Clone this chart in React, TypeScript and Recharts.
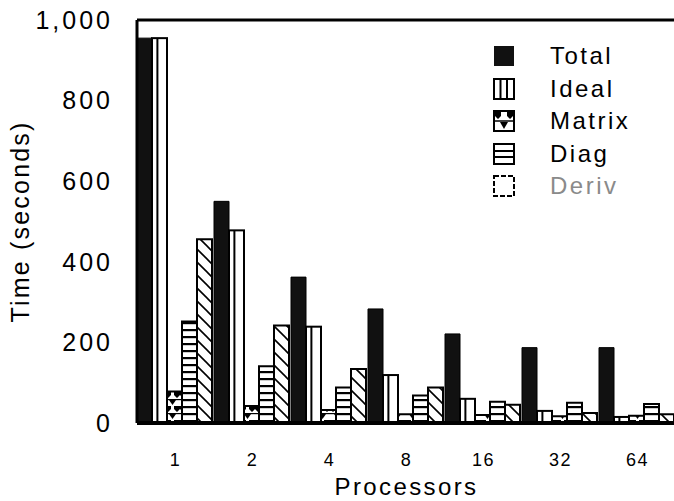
import React from "react";
import { Bar, BarChart, Legend, ReferenceLine, XAxis, YAxis } from "recharts";

const processors = ["1", "2", "4", "8", "16", "32", "64"];
const total = [955, 550, 362, 283, 221, 187, 187];
const ideal = [955, 478, 239, 119, 60, 30, 15];
const matrix = [78, 42, 32, 22, 20, 17, 18];
const diag = [252, 141, 88, 68, 53, 50, 47];
const deriv = [456, 242, 134, 88, 45, 25, 22];
const yTicks = [0, 200, 400, 600, 800, 1000];
const legendOrder = ["total", "ideal", "matrix", "diag", "deriv"];

const data = processors.map((p, i) => ({
  p,
  total: total[i],
  ideal: ideal[i],
  matrix: matrix[i],
  diag: diag[i],
  deriv: deriv[i],
}));

const font = "'Liberation Sans', Arial, Helvetica, sans-serif";

function IdealBar(props: any) {
  const { x, y, width, height } = props;
  if (!height) return null;
  const mid = x + width * 0.36;
  return (
    <g>
      <rect x={x} y={y} width={width} height={height} fill="#fff" stroke="#000" strokeWidth={2} />
      <line x1={mid} x2={mid} y1={y} y2={y + height} stroke="#000" strokeWidth={2} />
    </g>
  );
}

function LegendIcon({ k }: { k: string }) {
  const s = { stroke: "#000", strokeWidth: 2 };
  if (k === "total") return <rect x={1} y={1} width={20} height={20} fill="#111" />;
  if (k === "ideal")
    return (
      <g>
        <rect x={1} y={1} width={20} height={20} fill="#fff" {...s} />
        <line x1={7.5} x2={7.5} y1={1} y2={21} {...s} />
        <line x1={14} x2={14} y1={1} y2={21} {...s} />
      </g>
    );
  if (k === "matrix")
    return (
      <g>
        <rect x={1} y={1} width={20} height={20} fill="#fff" {...s} />
        <path d="M2,2 L8,2 L8,6 L5,9 L2,6 Z M14,2 L20,2 L20,6 L17,9 L14,6 Z" fill="#000" />
        <path d="M7,12 L15,12 L11,19 Z" fill="#000" />
        <line x1={2} x2={20} y1={11} y2={11} stroke="#000" strokeWidth={1.5} />
      </g>
    );
  if (k === "diag")
    return (
      <g>
        <rect x={1} y={1} width={20} height={20} fill="#fff" {...s} />
        <line x1={1} x2={21} y1={8} y2={8} {...s} />
        <line x1={1} x2={21} y1={14} y2={14} {...s} />
      </g>
    );
  return <rect x={1} y={1} width={20} height={20} fill="#fff" stroke="#000" strokeWidth={2} strokeDasharray="5 2" />;
}

function LegendBox({ payload }: any) {
  const items = [...(payload || [])].sort(
    (a: any, b: any) => legendOrder.indexOf(a.dataKey) - legendOrder.indexOf(b.dataKey)
  );
  return (
    <div style={{ fontFamily: font }}>
      {items.map((e: any) => (
        <div key={e.dataKey} style={{ display: "flex", alignItems: "center", height: 32.5 }}>
          <svg width={22} height={22}>
            <LegendIcon k={e.dataKey} />
          </svg>
          <span
            style={{
              marginLeft: 35,
              fontSize: 24,
              letterSpacing: 2.5,
              color: e.dataKey === "deriv" ? "#8a8a8a" : "#000",
            }}
          >
            {e.value}
          </span>
        </div>
      ))}
    </div>
  );
}

export default function App() {
  return (
    <div style={{ position: "absolute", left: 0, top: 0, width: 674, height: 501, overflow: "hidden", background: "#fff" }}>
      <BarChart
        width={690}
        height={501}
        data={data}
        margin={{ top: 20, right: 14, left: 0, bottom: 0 }}
        barCategoryGap={0}
        barGap={0}
      >
        <defs>
          <pattern id="pDiag" patternUnits="userSpaceOnUse" width={10} height={7}>
            <rect width={10} height={7} fill="#fff" />
            <rect y={0} width={10} height={2.2} fill="#000" />
          </pattern>
          <pattern id="pDeriv" patternUnits="userSpaceOnUse" width={13} height={13}>
            <rect width={13} height={13} fill="#fff" />
            <path d="M0,0 L13,13 M-3,10 L3,16 M10,-3 L16,3" stroke="#000" strokeWidth={1.6} />
          </pattern>
          <pattern id="pMatrix" patternUnits="userSpaceOnUse" width={15} height={14}>
            <rect width={15} height={14} fill="#fff" />
            <path d="M0,0 L6,0 L6,3 L3,6 L0,3 Z M9,0 L15,0 L15,3 L12,6 L9,3 Z" fill="#000" />
            <path d="M4,8 L11,8 L7.5,13 Z" fill="#000" />
            <rect x={0} y={7} width={15} height={1.2} fill="#000" />
          </pattern>
        </defs>
        <XAxis
          dataKey="p"
          height={78}
          axisLine={{ stroke: "#000", strokeWidth: 4 }}
          tickLine={false}
          tickSize={28}
          tick={{ fill: "#000", fontSize: 18, fontFamily: font, letterSpacing: 1.5 }}
          label={{
            value: "Processors",
            position: "insideBottom",
            offset: 6,
            style: { fill: "#000", fontSize: 24, fontFamily: font, letterSpacing: 2.4 },
          }}
        />
        <YAxis
          width={137}
          domain={[0, 1000]}
          ticks={yTicks}
          interval={0}
          allowDataOverflow
          axisLine={{ stroke: "#000", strokeWidth: 3 }}
          tickLine={false}
          tickSize={22}
          tickFormatter={(v: number) => v.toLocaleString("en-US")}
          tick={{ fill: "#000", fontSize: 25, fontFamily: font, letterSpacing: 3 }}
          label={{
            value: "Time (seconds)",
            angle: -90,
            position: "insideLeft",
            offset: 20,
            style: { textAnchor: "middle", fill: "#000", fontSize: 25, fontFamily: font, letterSpacing: 2.2 },
          }}
        />
        <ReferenceLine y={1000} stroke="#000" strokeWidth={3} />
        <Legend
          content={<LegendBox />}
          layout="vertical"
          verticalAlign="middle"
          align="center"
          wrapperStyle={{ left: 493, top: 40, width: 180 }}
        />
        <Bar dataKey="total" name="Total" fill="#111" stroke="#000" strokeWidth={1} isAnimationActive={false} />
        <Bar dataKey="ideal" name="Ideal" fill="#fff" shape={IdealBar} isAnimationActive={false} />
        <Bar dataKey="matrix" name="Matrix" fill="url(#pMatrix)" stroke="#000" strokeWidth={2} isAnimationActive={false} />
        <Bar dataKey="diag" name="Diag" fill="url(#pDiag)" stroke="#000" strokeWidth={2} isAnimationActive={false} />
        <Bar dataKey="deriv" name="Deriv" fill="url(#pDeriv)" stroke="#000" strokeWidth={2} isAnimationActive={false} />
      </BarChart>
    </div>
  );
}
